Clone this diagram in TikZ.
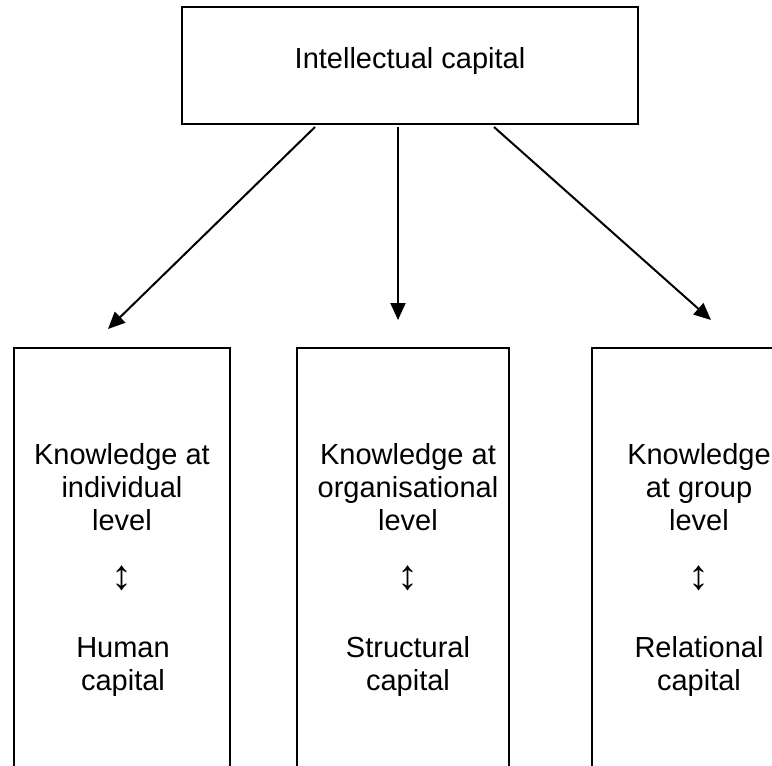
\documentclass[tikz,border=0pt]{standalone}
\usepackage{fontspec}
\setmainfont{Liberation Sans}
\usetikzlibrary{arrows.meta}
\begin{document}
\begin{tikzpicture}[x=1pt,y=-1pt,
  frame/.style={draw, line width=2.2pt, inner sep=0pt},
  lbl/.style={font=\fontsize{29}{33}\selectfont, align=center, anchor=base, inner sep=0pt},
  sym/.style={font=\fontsize{42}{44}\selectfont, inner sep=0pt},
  link/.style={line width=2pt, -{Triangle[length=17pt,width=15pt]}},
]
\useasboundingbox (0,0) rectangle (772,766);
\clip (0,0) rectangle (772,766);
\fill[white] (0,0) rectangle (772,766);
% top box
\node[frame, minimum width=456pt, minimum height=117pt] (top) at (410,65.5) {};
\node[lbl] (toptext) at (410,68) {Intellectual capital};
% lower boxes (open at the bottom of the picture)
\node[frame, minimum width=216pt, minimum height=452pt] (b1) at (122,574) {};
\node[frame, minimum width=212pt, minimum height=452pt] (b2) at (403,574) {};
\node[frame, minimum width=214pt, minimum height=452pt] (b3) at (699,574) {};
% texts (base = baseline of the last line)
\node[lbl] (k1) at (122,530) {Knowledge at\\individual\\level};
\node[lbl] (k2) at (408,530) {Knowledge at\\organisational\\level};
\node[lbl] (k3) at (699,530) {Knowledge\\at group\\level};
\node[sym] (a1) at (122,578) {↕};
\node[sym] (a2) at (408,578) {↕};
\node[sym] (a3) at (699,578) {↕};
\node[lbl] (c1) at (123,690) {Human\\capital};
\node[lbl] (c2) at (408,690) {Structural\\capital};
\node[lbl] (c3) at (699,690) {Relational\\capital};
% connectors
\coordinate (s1) at (315,127);
\coordinate (s2) at (398,127);
\coordinate (s3) at (494,127);
\coordinate (t1) at (108,329);
\coordinate (t2) at (398,320);
\coordinate (t3) at (711,320);
\draw[link] (s1) -- (t1);
\draw[link] (s2) -- (t2);
\draw[link] (s3) -- (t3);
\end{tikzpicture}
\end{document}
